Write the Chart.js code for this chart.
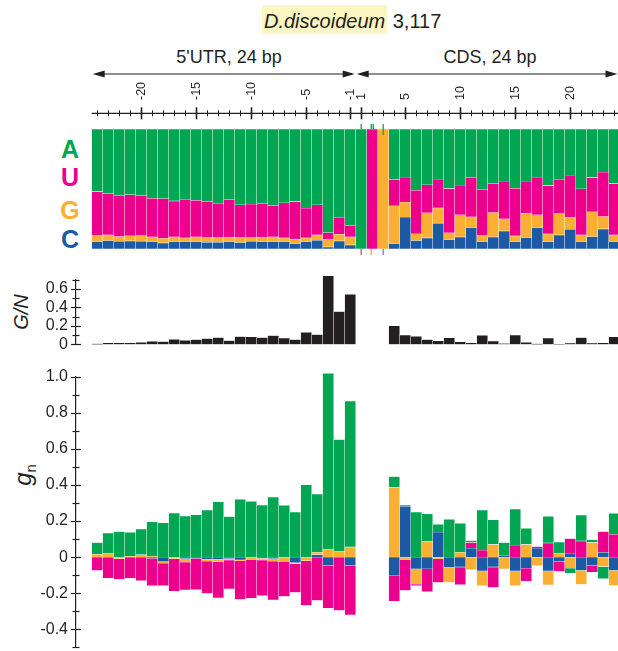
<!DOCTYPE html>
<html>
<head>
<meta charset="utf-8">
<script src="https://cdn.jsdelivr.net/npm/chart.js@4.4.1/dist/chart.umd.min.js"></script>
<style>
  html, body { margin: 0; padding: 0; background: #fff; overflow: hidden; }
  #wrap { position: relative; width: 618px; height: 651px; overflow: hidden;
          font-family: "Liberation Sans", Arial, Helvetica, sans-serif; color: #231f20; }
  canvas { position: absolute; left: 0; }
  .abs { position: absolute; white-space: nowrap; transform: translate(-50%, -50%); }
  .nuc { font-weight: bold; font-size: 25px; }
  .ytitle { transform: translate(-50%, -50%) rotate(-90deg); font-style: italic; }
</style>
</head>
<body>
<div id="wrap">
  <!-- titles / labels -->
  <div style="position:absolute; top:5px; left:262px; font-size:20px; white-space:nowrap;">
    <span style="display:inline-block; height:29px; line-height:32px; background:#fbf6c2; padding:0 2px;"><i>D.discoideum</i></span> 3,117
  </div>
  <div class="abs" style="left:229px; top:57px; font-size:18px;">5'UTR, 24 bp</div>
  <div class="abs" style="left:490px; top:57px; font-size:18px;">CDS, 24 bp</div>

  <div class="abs nuc" style="left:70px; top:149px; color:#00a651;">A</div>
  <div class="abs nuc" style="left:70px; top:177px; color:#ec008c;">U</div>
  <div class="abs nuc" style="left:70px; top:210px; color:#fbb034;">G</div>
  <div class="abs nuc" style="left:70px; top:239px; color:#1c5aa6;">C</div>

  <div class="abs ytitle" style="left:21px; top:312px; font-size:20px;">G/N</div>
  <div class="abs ytitle" style="left:24px; top:475px; font-size:24px;">g<sub style="font-style:normal; font-size:15px;">n</sub></div>

  <canvas id="nucChart" width="640" height="262" style="top:0px;"></canvas>
  <canvas id="gnRatioChart" width="640" height="100" style="top:262px;"></canvas>
  <canvas id="gnChart" width="640" height="310" style="top:356px;"></canvas>
</div>

<script>
// ---- data ----
const positions = [-24, -23, -22, -21, -20, -19, -18, -17, -16, -15, -14, -13, -12, -11, -10, -9, -8, -7, -6, -5, -4, -3, -2, -1,
                   1, 2, 3, 4, 5, 6, 7, 8, 9, 10, 11, 12, 13, 14, 15, 16, 17, 18, 19, 20, 21, 22, 23, 24];
const rulerLabels = [-20, -15, -10, -5, -1, 1, 5, 10, 15, 20];
const gOverNTickLabels = [0, 0.2, 0.4, 0.6];
const gnTickLabels = [-0.4, -0.2, 0, 0.2, 0.4, 0.6, 0.8, 1.0];

// nucleotide frequencies (top panel)
const freqC = [0.061, 0.070, 0.064, 0.067, 0.064, 0.061, 0.050, 0.061, 0.061, 0.061, 0.056, 0.056, 0.061, 0.053, 0.064, 0.061, 0.061, 0.061, 0.045, 0.061, 0.072, 0.017, 0.067, 0.033,
               0, 0, 0, 0.045, 0.265, 0.070, 0.092, 0.214, 0.078, 0.100, 0.178, 0.061, 0.100, 0.150, 0.061, 0.095, 0.178, 0.061, 0.117, 0.164, 0.061, 0.103, 0.167, 0.061];
const freqG = [0.050, 0.047, 0.039, 0.042, 0.047, 0.039, 0.039, 0.039, 0.031, 0.039, 0.039, 0.039, 0.036, 0.042, 0.031, 0.036, 0.039, 0.031, 0.036, 0.031, 0.045, 0.061, 0.056, 0.067,
               0, 0, 1, 0.315, 0.125, 0.056, 0.209, 0.128, 0.056, 0.184, 0.089, 0.050, 0.203, 0.100, 0.047, 0.203, 0.106, 0.064, 0.178, 0.100, 0.056, 0.206, 0.103, 0.056];
const freqU = [0.368, 0.345, 0.345, 0.343, 0.334, 0.323, 0.331, 0.300, 0.318, 0.306, 0.300, 0.281, 0.315, 0.273, 0.279, 0.284, 0.262, 0.292, 0.315, 0.248, 0.251, 0.058, 0.136, 0.095,
               0, 1, 0, 0.217, 0.209, 0.362, 0.234, 0.240, 0.370, 0.248, 0.331, 0.387, 0.242, 0.315, 0.398, 0.267, 0.315, 0.404, 0.281, 0.351, 0.384, 0.287, 0.370, 0.429];
const freqA = [0.521, 0.538, 0.552, 0.548, 0.555, 0.577, 0.580, 0.600, 0.590, 0.594, 0.605, 0.624, 0.588, 0.632, 0.626, 0.619, 0.638, 0.616, 0.604, 0.660, 0.632, 0.864, 0.741, 0.805,
               1, 0, 0, 0.423, 0.401, 0.512, 0.465, 0.418, 0.496, 0.468, 0.402, 0.502, 0.455, 0.435, 0.494, 0.435, 0.401, 0.471, 0.424, 0.385, 0.499, 0.404, 0.360, 0.454];

// G/N (middle panel)
const gOverN = [0.006, 0.016, 0.016, 0.016, 0.023, 0.032, 0.030, 0.055, 0.045, 0.052, 0.062, 0.075, 0.042, 0.084, 0.081, 0.075, 0.094, 0.068, 0.052, 0.130, 0.107, 0.740, 0.354, 0.540,
                null, null, null, 0.200, 0.100, 0.088, 0.052, 0.039, 0.071, 0.029, 0.016, 0.097, 0.036, 0.010, 0.100, 0.023, 0.006, 0.068, 0.003, 0.013, 0.075, 0.013, 0.016, 0.081];

// g_n per nucleotide (bottom panel)
const gnC = [0, 0, 0, 0, 0, -0.007, -0.026, 0, -0.009, -0.007, -0.011, -0.011, -0.009, -0.015, 0, -0.007, -0.009, 0, -0.031, 0, 0.013, -0.048, 0, -0.046,
             null, null, null, -0.100, 0.281, -0.065, -0.065, 0.138, -0.057, -0.055, 0.050, -0.076, -0.055, 0.007, -0.076, -0.061, 0.050, -0.076, -0.024, 0.022, -0.074, -0.048, 0.026, -0.074];
const gnG = [0.015, 0.022, -0.009, 0.004, 0.013, 0.005, -0.007, -0.009, -0.019, 0, -0.011, -0.015, -0.007, -0.006, -0.015, -0.009, -0.013, -0.024, -0.006, -0.020, 0.013, 0.044, 0.033, 0.056,
             null, null, null, 0.386, -0.015, -0.085, 0.087, -0.010, -0.083, 0.026, -0.070, -0.083, 0.070, -0.066, -0.083, 0.070, -0.048, -0.078, 0.022, -0.061, -0.077, 0.081, -0.052, -0.083];
const gnU = [-0.074, -0.117, -0.113, -0.117, -0.131, -0.152, -0.126, -0.180, -0.154, -0.174, -0.180, -0.200, -0.161, -0.213, -0.213, -0.198, -0.215, -0.194, -0.159, -0.248, -0.240, -0.235, -0.296, -0.274,
             null, null, null, -0.144, -0.170, -0.009, -0.126, -0.131, 0, -0.098, 0.031, 0.039, -0.113, 0, 0.066, -0.072, 0.009, 0.078, -0.055, 0.081, 0.089, -0.035, 0.116, 0.126];
const gnA = [0.066, 0.111, 0.141, 0.133, 0.143, 0.190, 0.190, 0.244, 0.228, 0.235, 0.261, 0.306, 0.224, 0.320, 0.309, 0.289, 0.333, 0.287, 0.250, 0.400, 0.324, 0.974, 0.619, 0.809,
             null, null, null, 0.061, 0.007, 0.249, 0.153, 0.044, 0.210, 0.161, 0.011, 0.221, 0.137, 0.074, 0.200, 0.089, 0, 0.148, 0.061, -0.028, 0.144, 0.015, -0.068, 0.116];

// ---- look ----
const INK = '#231f20';
const COLORS = { A: '#00a651', U: '#ec008c', G: '#fbb034', C: '#1c5aa6' };
const FONT = '"Liberation Sans", Arial, Helvetica, sans-serif';

// every panel shares one x mapping: 11px per position, first bar starts at 91.7px
const CANVAS_W = 640, UNIT = 11, AREA_LEFT = 76, FIRST_BAR_LEFT = 91.7;
const XMIN = -0.5 - (FIRST_BAR_LEFT - AREA_LEFT) / UNIT;
const XMAX = XMIN + (CANVAS_W - AREA_LEFT) / UNIT;

const toXY = arr => arr.map((v, i) => ({ x: i, y: v }));
const barSet = (label, values, color, border) => ({
    label, data: toXY(values), backgroundColor: color,
    borderColor: border || 'rgba(255,255,255,0.35)', borderWidth: 0.5, borderSkipped: false,
    categoryPercentage: 1, barPercentage: 1, clip: false
});
const hasLabel = (list, v) => list.some(t => Math.abs(t - v) < 1e-6);
const fmt = v => Math.abs(v) < 1e-6 ? '0' : v.toFixed(1);

const baseOptions = padding => ({
    responsive: false, animation: false, events: [],
    layout: { padding },
    plugins: { legend: { display: false }, tooltip: { enabled: false } }
});

// ruler, arrows and start-codon markers above the top panel
const rulerPlugin = {
    id: 'ruler',
    afterDraw(chart) {
        const { ctx, scales: { x } } = chart;
        const RULER_Y = 113.3, LABEL_Y = 100, ARROW_Y = 74;
        ctx.save();
        ctx.strokeStyle = INK; ctx.fillStyle = INK; ctx.lineWidth = 1.2;
        // axis line + ticks
        ctx.beginPath();
        ctx.moveTo(x.getPixelForValue(-0.5), RULER_Y);
        ctx.lineTo(x.getPixelForValue(positions.length - 0.5), RULER_Y);
        ctx.stroke();
        positions.forEach((p, i) => {
            const px = Math.round(x.getPixelForValue(i)) + 0.5;
            const major = rulerLabels.includes(p);
            const len = major ? 6 : 3;
            ctx.lineWidth = major ? 1.6 : 1;
            ctx.beginPath(); ctx.moveTo(px, RULER_Y - len); ctx.lineTo(px, RULER_Y + len); ctx.stroke();
            if (major) {
                ctx.save();
                ctx.translate(px, LABEL_Y);
                ctx.rotate(-Math.PI / 2);
                ctx.font = '12.5px ' + FONT;
                ctx.textAlign = 'left'; ctx.textBaseline = 'middle';
                ctx.fillText(String(p), 0, 0);
                ctx.restore();
            }
        });
        // double-headed arrows for 5'UTR and CDS
        const arrow = (x1, x2) => {
            ctx.lineWidth = 1.2;
            ctx.beginPath(); ctx.moveTo(x1 + 4, ARROW_Y); ctx.lineTo(x2 - 4, ARROW_Y); ctx.stroke();
            ctx.beginPath(); ctx.moveTo(x1, ARROW_Y); ctx.lineTo(x1 + 12, ARROW_Y - 3.6); ctx.lineTo(x1 + 12, ARROW_Y + 3.6); ctx.closePath(); ctx.fill();
            ctx.beginPath(); ctx.moveTo(x2, ARROW_Y); ctx.lineTo(x2 - 12, ARROW_Y - 3.6); ctx.lineTo(x2 - 12, ARROW_Y + 3.6); ctx.closePath(); ctx.fill();
        };
        const split = x.getPixelForValue(23.5);
        arrow(x.getPixelForValue(-0.5) + 1, split - 1);
        arrow(split + 1, Math.min(x.getPixelForValue(positions.length - 0.5), 617.5));
        // small marks over / under the AUG codon
        const top = chart.chartArea.top, bottom = chart.chartArea.bottom;
        const marks = [[24, 0, COLORS.A, '#e2522e'], [25, -1, COLORS.A, '#e8a33a'], [25, 1, COLORS.A, null], [26, 0, '#3a8f4a', '#6b86c4']];
        ctx.lineWidth = 1.3;
        marks.forEach(([i, dx, up, down]) => {
            const px = x.getPixelForValue(i) + dx;
            ctx.strokeStyle = up;
            ctx.beginPath(); ctx.moveTo(px, top - 5); ctx.lineTo(px, top + (i === 26 ? 6 : 0)); ctx.stroke();
            if (down) {
                ctx.strokeStyle = down;
                ctx.beginPath(); ctx.moveTo(px, bottom); ctx.lineTo(px, bottom + 6); ctx.stroke();
            }
        });
        ctx.restore();
    }
};

// y-axis ticks that cross the axis line
const crossTicksPlugin = {
    id: 'crossTicks',
    afterDraw(chart, args, opts) {
        const { ctx, scales: { y }, chartArea } = chart;
        const x0 = chartArea.left;
        ctx.save();
        ctx.strokeStyle = INK; ctx.lineWidth = 1.2;
        y.ticks.forEach(t => {
            const py = Math.round(y.getPixelForValue(t.value)) + 0.5;
            const len = hasLabel(opts.labels, t.value) ? 5 : 3.5;
            ctx.beginPath(); ctx.moveTo(x0 - len, py); ctx.lineTo(x0 + len, py); ctx.stroke();
        });
        ctx.restore();
    }
};

const yAxis = (min, max, labels) => ({
    min, max, stacked: true, position: 'left',
    afterFit: s => { s.width = AREA_LEFT; },
    grid: { display: false, drawTicks: false },
    border: { display: true, color: INK, width: 1.2 },
    ticks: {
        stepSize: 0.1, autoSkip: false, padding: 8, color: INK,
        font: { family: FONT, size: 16 },
        callback: v => hasLabel(labels, v) ? fmt(v) : ''
    }
});
const xAxis = () => ({
    type: 'linear', min: XMIN, max: XMAX, stacked: true, display: false,
    offset: false, grid: { offset: false }, bounds: 'data'
});

// ---- top: nucleotide composition ----
new Chart(document.getElementById('nucChart'), {
    type: 'bar',
    data: { datasets: [
        barSet('C', freqC, COLORS.C), barSet('G', freqG, COLORS.G),
        barSet('U', freqU, COLORS.U), barSet('A', freqA, COLORS.A)
    ] },
    options: Object.assign(baseOptions({ left: AREA_LEFT, top: 129, bottom: 13, right: 0 }), {
        scales: { x: xAxis(), y: { min: 0, max: 1, stacked: true, display: false } }
    }),
    plugins: [rulerPlugin]
});

// ---- middle: G/N ----
new Chart(document.getElementById('gnRatioChart'), {
    type: 'bar',
    data: { datasets: [barSet('G/N', gOverN, INK, 'rgba(255,255,255,0.45)')] },
    options: Object.assign(baseOptions({ left: 0, top: 12.7, bottom: 15.3, right: 0 }), {
        scales: { x: xAxis(), y: yAxis(0, 0.7, gOverNTickLabels) },
        plugins: { legend: { display: false }, tooltip: { enabled: false }, crossTicks: { labels: gOverNTickLabels } }
    }),
    plugins: [crossTicksPlugin]
});

// ---- bottom: g_n ----
new Chart(document.getElementById('gnChart'), {
    type: 'bar',
    data: { datasets: [
        barSet('C', gnC, COLORS.C), barSet('G', gnG, COLORS.G),
        barSet('U', gnU, COLORS.U), barSet('A', gnA, COLORS.A)
    ] },
    options: Object.assign(baseOptions({ left: 0, top: 20.7, bottom: 18.7, right: 0 }), {
        scales: { x: xAxis(), y: yAxis(-0.5, 1.0, gnTickLabels) },
        plugins: { legend: { display: false }, tooltip: { enabled: false }, crossTicks: { labels: gnTickLabels } }
    }),
    plugins: [crossTicksPlugin]
});
</script>
</body>
</html>
